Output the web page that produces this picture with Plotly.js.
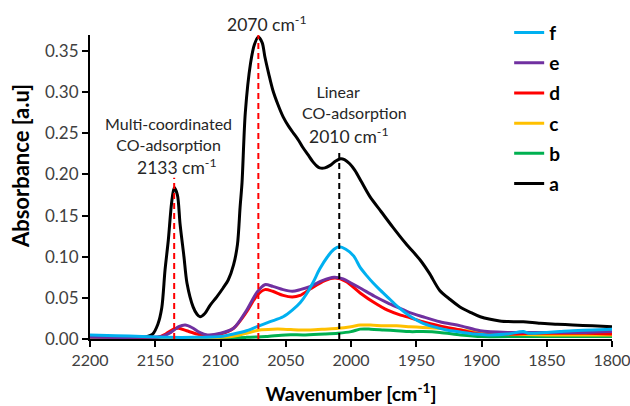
<!DOCTYPE html>
<html>
<head>
<meta charset="utf-8">
<script src="https://cdn.plot.ly/plotly-3.0.1.min.js"></script>
<style>html,body{margin:0;padding:0;background:#fff;}#chart{width:630px;height:406px;}</style>
</head>
<body>
<div id="chart"></div>
<script>
// ---- data ----
const wnA = [2200,2165,2156,2152,2148,2145,2142.5,2140,2137.5,2135.5,2133,2131,2128,2125.7,2121,2118,2115.7,2112,2108,2103,2098,2094,2090,2087,2085,2083.5,2081,2077,2074,2071,2068,2066,2063,2060,2056,2052,2048,2044,2040,2037,2033,2029,2026,2024,2020,2016,2012,2008,2005,2001,1997,1992,1985.5,1977,1968,1958,1947,1940,1932,1924,1916.5,1908,1901,1886,1875,1868,1855,1842,1830,1815,1800];
const absA = [0.001,0.001,0.003,0.006,0.018,0.038,0.084,0.120,0.165,0.184,0.175,0.140,0.100,0.068,0.039,0.030,0.027,0.031,0.041,0.051,0.062,0.072,0.090,0.115,0.160,0.190,0.275,0.335,0.358,0.367,0.360,0.343,0.322,0.303,0.285,0.270,0.259,0.250,0.241,0.233,0.224,0.215,0.210,0.208,0.208,0.211,0.216,0.219,0.218,0.213,0.205,0.191,0.173,0.155,0.136,0.116,0.096,0.080,0.059,0.048,0.039,0.032,0.027,0.022,0.021,0.021,0.019,0.018,0.017,0.016,0.015];

const wnB = [2200,2120,2100,2080,2065,2050,2035,2020,2010,2000,1993,1985,1975,1965,1955,1945,1932,1916,1900,1870,1840,1800];
const absB = [0.001,0.001,0.001,0.002,0.003,0.005,0.005,0.006,0.007,0.009,0.012,0.012,0.011,0.010,0.009,0.009,0.008,0.005,0.003,0.003,0.003,0.003];

const wnC = [2200,2120,2100,2088,2078,2070,2060,2052,2040,2031,2020,2010,2000,1993,1985,1975,1965,1955,1945,1932,1916,1901,1880,1850,1820,1800];
const absC = [0.001,0.001,0.002,0.004,0.008,0.011,0.012,0.012,0.011,0.011,0.012,0.013,0.015,0.017,0.017,0.016,0.016,0.015,0.014,0.013,0.011,0.008,0.006,0.005,0.005,0.005];

const wnD = [2200,2180,2160,2148,2142,2136,2132,2126,2118,2110,2100,2090,2080,2072,2066,2060,2052,2045,2039,2031,2020,2012,2004,1993,1982,1972,1962,1955,1945,1932,1916,1901,1880,1860,1840,1820,1800];
const absD = [0.003,0.002,0.001,0.002,0.006,0.012,0.013,0.010,0.006,0.004,0.006,0.013,0.033,0.053,0.060,0.058,0.053,0.051,0.053,0.061,0.071,0.074,0.070,0.056,0.044,0.035,0.029,0.026,0.021,0.016,0.011,0.006,0.006,0.007,0.007,0.007,0.006];

const wnE = [2200,2160,2145,2138,2132,2127,2122,2116,2110,2100,2090,2080,2072,2066,2060,2052,2045,2039,2031,2022,2013,2006,2000,1993,1982,1972,1962,1955,1945,1932,1916,1901,1880,1850,1820,1800];
const absE = [0.002,0.002,0.003,0.008,0.015,0.017,0.014,0.008,0.005,0.007,0.013,0.035,0.057,0.066,0.064,0.060,0.058,0.060,0.064,0.071,0.075,0.073,0.068,0.062,0.052,0.044,0.037,0.032,0.027,0.021,0.016,0.010,0.008,0.008,0.008,0.009];

const wnF = [2200,2180,2160,2140,2120,2100,2090,2080,2072,2062,2052,2045,2039,2034,2029,2024,2018,2013,2009,2004,1998,1993,1988,1983,1978,1972,1964,1955,1946,1937,1927,1916.5,1905,1895,1880,1868,1864,1850,1840,1830,1815,1800];
const absF = [0.005,0.004,0.003,0.002,0.002,0.003,0.006,0.010,0.015,0.021,0.027,0.035,0.044,0.055,0.069,0.085,0.100,0.109,0.112,0.109,0.101,0.087,0.077,0.068,0.060,0.051,0.039,0.028,0.020,0.015,0.011,0.0085,0.006,0.005,0.006,0.009,0.007,0.008,0.009,0.010,0.011,0.012];

const seriesNames = ['a','b','c','d','e','f'];
const seriesWn = [wnA, wnB, wnC, wnD, wnE, wnF];
const seriesAbs = [absA, absB, absC, absD, absE, absF];
const seriesColors = ['#000000','#00B050','#FFC000','#FF0000','#7030A0','#00B0F0'];
const legendRanks = [6,5,4,3,2,1];

// marked peak positions (dashed guide lines)
const peakWn = [2135.5, 2071, 2009];
const peakTop = [0.196, 0.3695, 0.228];
const peakColors = ['#FF0000','#FF0000','#000000'];

const xTicks = [2200,2150,2100,2050,2000,1950,1900,1850,1800];
const yTicks = [0,0.05,0.10,0.15,0.20,0.25,0.30,0.35];

// ---- build chart ----
const FONT = 'Lato, "Open Sans", sans-serif';
const traces = [];
for (let i = 0; i < seriesNames.length; i++) {
  traces.push({
    x: seriesWn[i], y: seriesAbs[i], name: seriesNames[i],
    type: 'scatter', mode: 'lines',
    line: {color: seriesColors[i], width: 3, shape: 'spline', smoothing: 0.8},
    legendgroup: 'g' + i, legendrank: legendRanks[i], hoverinfo: 'skip'
  });
}
for (let j = 0; j < peakWn.length; j++) {
  traces.push({
    x: [peakWn[j], peakWn[j]], y: [0, peakTop[j]],
    type: 'scatter', mode: 'lines', showlegend: false, hoverinfo: 'skip',
    line: {color: peakColors[j], width: 2, dash: '6px,4px'}
  });
}

const NB = '&nbsp;';
const annFont = {family: FONT, size: 17.5, color: '#262626'};
const annSmall = {family: FONT, size: 16, color: '#262626'};
const annotations = [
  {xref: 'x', yref: 'paper', x: 2064.4, y: 1.039, text: '2070 cm<sup>-1</sup>', font: annFont},
  {xref: 'x', yref: 'y', x: 2140.2, y: 0.2495, text: 'Multi-coordinated<br>CO-adsorption', font: annSmall},
  {xref: 'x', yref: 'y', x: 2133.3, y: 0.210, text: '2133 cm<sup>-1</sup>', font: annFont},
  {xref: 'x', yref: 'y', x: 1997.5, y: 0.2875, text: 'Linear' + NB.repeat(8) + '<br>CO-adsorption', font: annSmall},
  {xref: 'x', yref: 'y', x: 2001.5, y: 0.247, text: '2010 cm<sup>-1</sup>', font: annFont},
  {xref: 'paper', yref: 'paper', x: -0.134, y: 0.569, textangle: -90, text: 'Absorbance [a.u]',
   font: {family: FONT, size: 22, color: '#000', weight: 'bold'}}
].map(a => Object.assign({showarrow: false, xanchor: 'center', yanchor: 'middle'}, a));

const layout = {
  width: 630, height: 406,
  margin: {l: 90, r: 18, t: 35, b: 67},
  paper_bgcolor: '#ffffff', plot_bgcolor: '#ffffff',
  font: {family: FONT, color: '#404040'},
  showlegend: true,
  legend: {
    x: 0.803, y: 1.07, xanchor: 'left', yanchor: 'top',
    traceorder: 'grouped', tracegroupgap: 2.5,
    font: {family: FONT, size: 19, color: '#000', weight: 'bold'},
    bgcolor: 'rgba(0,0,0,0)'
  },
  xaxis: {
    range: [2200, 1800], tickvals: xTicks, ticktext: xTicks.map(String),
    ticks: 'outside', ticklen: 6, tickwidth: 2, tickcolor: '#000',
    showline: true, linecolor: '#000', linewidth: 2, mirror: false,
    showgrid: false, zeroline: false, ticklabeloverflow: 'allow',
    tickfont: {family: FONT, size: 16, color: '#404040'},
    title: {text: 'Wavenumber [cm<sup>-1</sup>]', font: {family: FONT, size: 19.5, color: '#000', weight: 'bold'}, standoff: 19}
  },
  yaxis: {
    range: [0, 0.3695], tickvals: yTicks, tickformat: '.2f',
    ticks: 'outside', ticklen: 6, tickwidth: 2, tickcolor: '#000',
    showline: true, linecolor: '#000', linewidth: 2,
    showgrid: false, zeroline: false,
    tickfont: {family: FONT, size: 17, color: '#404040'}
  },
  annotations: annotations
};

Plotly.newPlot('chart', traces, layout, {displayModeBar: false, staticPlot: true});
</script>
</body>
</html>
